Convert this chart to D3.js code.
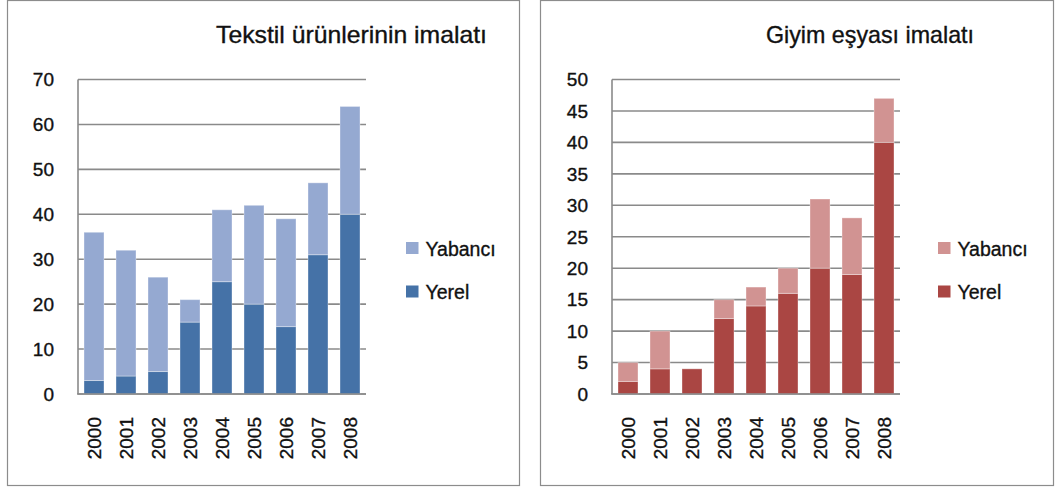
<!DOCTYPE html>
<html>
<head>
<meta charset="utf-8">
<script src="https://cdn.jsdelivr.net/npm/d3@7"></script>
<style>
  body { margin: 0; background: #fff; }
  text { font-family: "Liberation Sans", Arial, sans-serif; fill: #111; stroke: #111; stroke-width: 0.35px; }
</style>
</head>
<body>
<svg id="chart" width="1056" height="490"></svg>
<script>
const years = ["2000", "2001", "2002", "2003", "2004", "2005", "2006", "2007", "2008"];
const seriesNames = ["Yerel", "Yabancı"];

// Tekstil ürünlerinin imalatı
const tekstilYerel   = [3, 4, 5, 16, 25, 20, 15, 31, 40];
const tekstilYabanci = [33, 28, 21, 5, 16, 22, 24, 16, 24];
const tekstilTicks   = [0, 10, 20, 30, 40, 50, 60, 70];

// Giyim eşyası imalatı
const giyimYerel   = [2, 4, 4, 12, 14, 16, 20, 19, 40];
const giyimYabanci = [3, 6, 0, 3, 3, 4, 11, 9, 7];
const giyimTicks   = [0, 5, 10, 15, 20, 25, 30, 35, 40, 45, 50];

const svg = d3.select("#chart");

function drawPanel(cfg) {
    const g = svg.append("g");

    // frame
    g.append("rect")
        .attr("x", cfg.frame[0] + 0.5).attr("y", 0.5)
        .attr("width", cfg.frame[1] - cfg.frame[0]).attr("height", 485)
        .attr("fill", "#fff").attr("stroke", "#8c8c8c").attr("stroke-width", 1.2);

    const top = 79.5, bottom = 394;
    const x = d3.scaleBand()
        .domain(years)
        .range([cfg.left, cfg.left + 288])
        .paddingInner(0.375)
        .paddingOuter(0.1875);
    const y = d3.scaleLinear()
        .domain([0, d3.max(cfg.ticks)])
        .range([bottom, top]);

    // grid lines
    g.selectAll(".grid")
        .data(cfg.ticks)
        .join("line")
        .attr("x1", cfg.left).attr("x2", cfg.left + 288)
        .attr("y1", d => y(d)).attr("y2", d => y(d))
        .attr("stroke", "#8a8a8a").attr("stroke-width", 1.6);

    // y axis line
    g.append("line")
        .attr("x1", cfg.left).attr("x2", cfg.left)
        .attr("y1", top).attr("y2", bottom)
        .attr("stroke", "#8a8a8a").attr("stroke-width", 1.6);

    g.selectAll(".ytick")
        .data(cfg.ticks)
        .join("text")
        .attr("x", cfg.left - 24)
        .attr("y", d => y(d))
        .attr("dy", "0.36em")
        .attr("text-anchor", "end")
        .style("font-size", "19px")
        .text(d => d);

    // stacked bars
    const rows = years.map((yr, i) => ({ year: yr, Yerel: cfg.yerel[i], "Yabancı": cfg.yabanci[i] }));
    const stacked = d3.stack().keys(seriesNames)(rows);
    const color = d3.scaleOrdinal().domain(seriesNames).range(cfg.colors);

    g.selectAll(".layer")
        .data(stacked)
        .join("g")
        .attr("fill", d => color(d.key))
        .selectAll("rect")
        .data(d => d.filter(p => p[1] > p[0]))
        .join("rect")
        .attr("x", d => x(d.data.year))
        .attr("width", x.bandwidth())
        .attr("y", d => y(d[1]))
        .attr("height", d => y(d[0]) - y(d[1]))
        .attr("stroke", "rgba(255,255,255,0.35)")
        .attr("stroke-width", 1);

    // bottom axis line on top of the bars
    g.append("line")
        .attr("x1", cfg.left - 1).attr("x2", cfg.left + 288)
        .attr("y1", bottom).attr("y2", bottom)
        .attr("stroke", "#8a8a8a").attr("stroke-width", 1.6);

    // x labels, rotated
    g.selectAll(".xlab")
        .data(years)
        .join("text")
        .attr("transform", d => `translate(${x(d) + x.bandwidth() / 2},${bottom + 23}) rotate(-90)`)
        .attr("dy", "0.36em")
        .attr("text-anchor", "end")
        .style("font-size", "19px")
        .text(d => d);

    // title
    g.append("text")
        .attr("x", cfg.titleX[0]).attr("y", 42.5)
        .attr("textLength", cfg.titleX[1] - cfg.titleX[0])
        .attr("lengthAdjust", "spacingAndGlyphs")
        .style("font-size", "24px")
        .text(cfg.title);

    // legend (Yabancı first)
    const legendItems = ["Yabancı", "Yerel"];
    const lg = g.selectAll(".leg")
        .data(legendItems)
        .join("g")
        .attr("transform", (d, i) => `translate(${cfg.legendX},${242 + i * 43.5})`);
    lg.append("rect")
        .attr("width", 12.5).attr("height", 12)
        .attr("fill", d => color(d));
    lg.append("text")
        .attr("x", 19.5).attr("y", 13.5)
        .style("font-size", "19.5px")
        .text(d => d);
}

drawPanel({
    frame: [7, 519],
    left: 78,
    ticks: tekstilTicks,
    yerel: tekstilYerel,
    yabanci: tekstilYabanci,
    colors: ["#4572a7", "#95a9d1"],
    title: "Tekstil ürünlerinin imalatı",
    titleX: [216, 487],
    legendX: 406
});

drawPanel({
    frame: [540, 1053],
    left: 612,
    ticks: giyimTicks,
    yerel: giyimYerel,
    yabanci: giyimYabanci,
    colors: ["#aa4643", "#d19392"],
    title: "Giyim eşyası imalatı",
    titleX: [766, 974],
    legendX: 938
});
</script>
</body>
</html>
